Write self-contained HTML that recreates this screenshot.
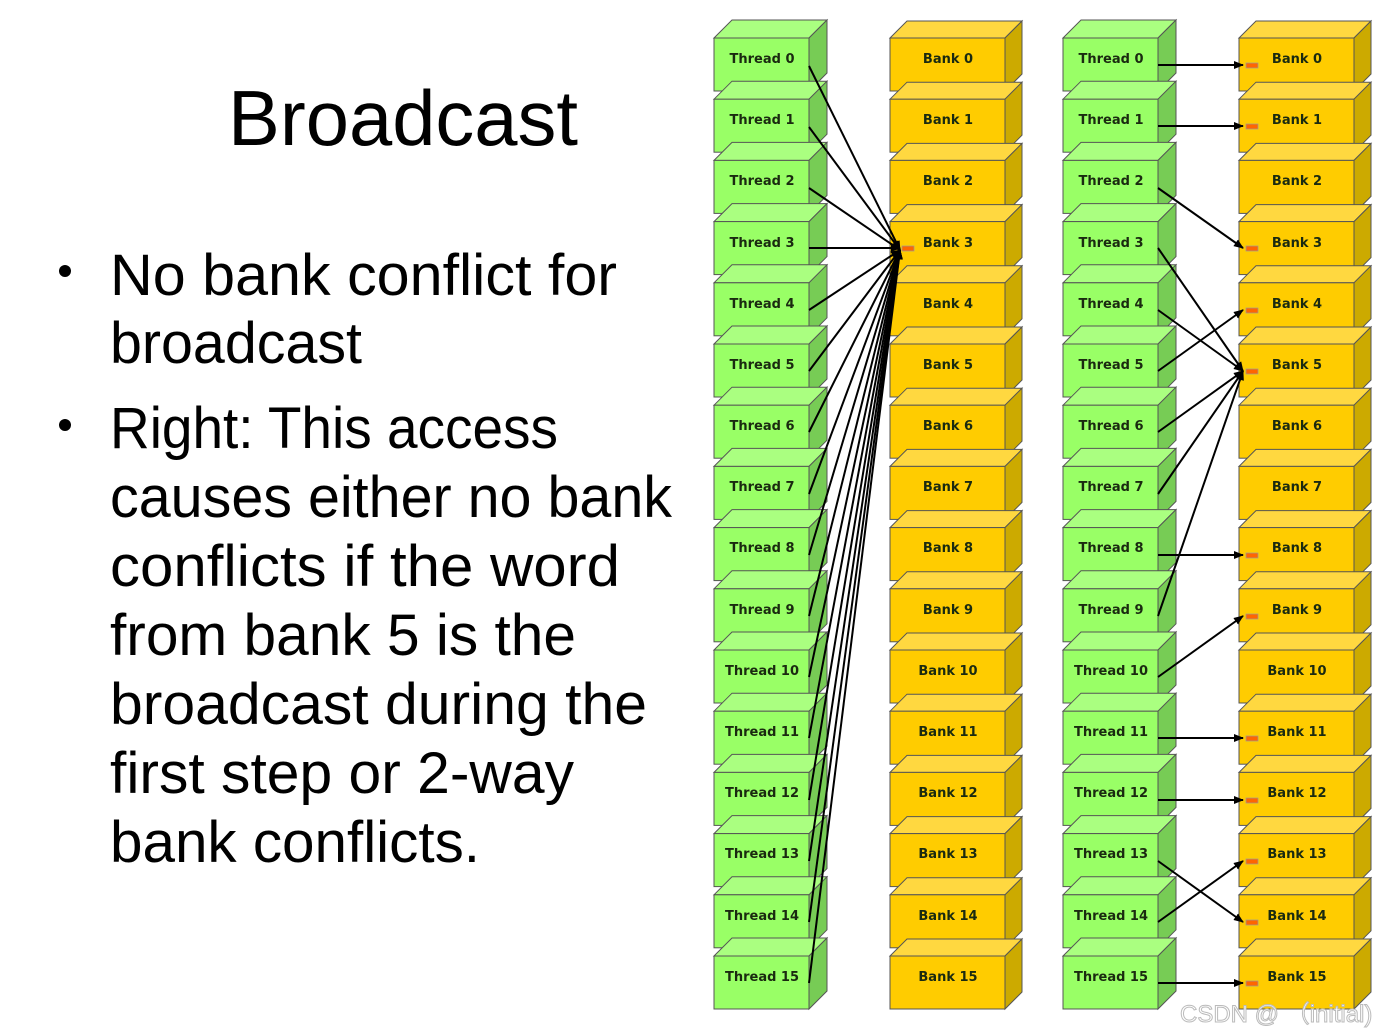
<!DOCTYPE html>
<html><head><meta charset="utf-8"><style>
html,body{margin:0;padding:0;background:#fff;width:1399px;height:1036px;overflow:hidden}
svg{display:block}
.t{font-family:"DejaVu Sans","Liberation Sans",sans-serif;font-weight:bold;font-size:13px;fill:#1a2a10;text-anchor:middle}
.b{font-family:"Liberation Sans",sans-serif;font-size:58px;fill:#000}
</style></head><body>
<svg width="1399" height="1036" viewBox="0 0 1399 1036" xmlns="http://www.w3.org/2000/svg">
<defs>
<g id="g"><polygon points="0,0 18,-18 113,-18 95,0" fill="#aaff80" stroke="#555" stroke-width="1"/><polygon points="95,0 113,-18 113,35 95,53" fill="#77cc55" stroke="#555" stroke-width="1"/><rect x="0" y="0" width="95" height="53" fill="#99ff66" stroke="#555" stroke-width="1"/></g>
<g id="y"><polygon points="0,0 17,-17 132,-17 115,0" fill="#ffd840" stroke="#555" stroke-width="1"/><polygon points="115,0 132,-17 132,36 115,53" fill="#ccaa00" stroke="#555" stroke-width="1"/><rect x="0" y="0" width="115" height="53" fill="#ffcc00" stroke="#555" stroke-width="1"/></g>
<marker id="a" markerWidth="10" markerHeight="8" refX="9" refY="4" orient="auto" markerUnits="userSpaceOnUse"><path d="M0,0 L10,4 L0,8 z" fill="#000"/></marker>
<rect id="m" x="0" y="-2" width="12" height="5" fill="#ff6600" stroke="#999" stroke-width="0.7"/>
</defs>
<text x="228" y="145" class="b" style="font-size:78px" textLength="350" lengthAdjust="spacingAndGlyphs">Broadcast</text>
<circle cx="65" cy="271" r="6"/><circle cx="65" cy="425" r="6"/>
<text class="b" x="110" y="295" textLength="507" lengthAdjust="spacingAndGlyphs">No bank conflict for</text>
<text class="b" x="110" y="363" textLength="252" lengthAdjust="spacingAndGlyphs">broadcast</text>
<text class="b" x="110" y="448" textLength="448" lengthAdjust="spacingAndGlyphs">Right: This access</text>
<text class="b" x="110" y="517" textLength="562" lengthAdjust="spacingAndGlyphs">causes either no bank</text>
<text class="b" x="110" y="586" textLength="510" lengthAdjust="spacingAndGlyphs">conflicts if the word</text>
<text class="b" x="110" y="655" textLength="466" lengthAdjust="spacingAndGlyphs">from bank 5 is the</text>
<text class="b" x="110" y="724" textLength="537" lengthAdjust="spacingAndGlyphs">broadcast during the</text>
<text class="b" x="110" y="793" textLength="464" lengthAdjust="spacingAndGlyphs">first step or 2-way</text>
<text class="b" x="110" y="862" textLength="370" lengthAdjust="spacingAndGlyphs">bank conflicts.</text>

<g id="c1">
<use href="#g" x="714" y="38"/><use href="#g" x="714" y="99.2"/><use href="#g" x="714" y="160.4"/><use href="#g" x="714" y="221.6"/><use href="#g" x="714" y="282.8"/><use href="#g" x="714" y="344"/><use href="#g" x="714" y="405.2"/><use href="#g" x="714" y="466.4"/><use href="#g" x="714" y="527.6"/><use href="#g" x="714" y="588.8"/><use href="#g" x="714" y="650"/><use href="#g" x="714" y="711.2"/><use href="#g" x="714" y="772.4"/><use href="#g" x="714" y="833.6"/><use href="#g" x="714" y="894.8"/><use href="#g" x="714" y="956"/>
</g>
<use href="#c1" x="349"/>
<g id="c2">
<use href="#y" x="890" y="38"/><use href="#y" x="890" y="99.2"/><use href="#y" x="890" y="160.4"/><use href="#y" x="890" y="221.6"/><use href="#y" x="890" y="282.8"/><use href="#y" x="890" y="344"/><use href="#y" x="890" y="405.2"/><use href="#y" x="890" y="466.4"/><use href="#y" x="890" y="527.6"/><use href="#y" x="890" y="588.8"/><use href="#y" x="890" y="650"/><use href="#y" x="890" y="711.2"/><use href="#y" x="890" y="772.4"/><use href="#y" x="890" y="833.6"/><use href="#y" x="890" y="894.8"/><use href="#y" x="890" y="956"/>
</g>
<use href="#c2" x="349"/>

<g class="t">
<text x="762" y="63">Thread 0</text><text x="762" y="124">Thread 1</text><text x="762" y="185">Thread 2</text><text x="762" y="247">Thread 3</text><text x="762" y="308">Thread 4</text><text x="762" y="369">Thread 5</text><text x="762" y="430">Thread 6</text><text x="762" y="491">Thread 7</text><text x="762" y="552">Thread 8</text><text x="762" y="614">Thread 9</text><text x="762" y="675">Thread 10</text><text x="762" y="736">Thread 11</text><text x="762" y="797">Thread 12</text><text x="762" y="858">Thread 13</text><text x="762" y="920">Thread 14</text><text x="762" y="981">Thread 15</text>
<text x="948" y="63">Bank 0</text><text x="948" y="124">Bank 1</text><text x="948" y="185">Bank 2</text><text x="948" y="247">Bank 3</text><text x="948" y="308">Bank 4</text><text x="948" y="369">Bank 5</text><text x="948" y="430">Bank 6</text><text x="948" y="491">Bank 7</text><text x="948" y="552">Bank 8</text><text x="948" y="614">Bank 9</text><text x="948" y="675">Bank 10</text><text x="948" y="736">Bank 11</text><text x="948" y="797">Bank 12</text><text x="948" y="858">Bank 13</text><text x="948" y="920">Bank 14</text><text x="948" y="981">Bank 15</text>
<text x="1111" y="63">Thread 0</text><text x="1111" y="124">Thread 1</text><text x="1111" y="185">Thread 2</text><text x="1111" y="247">Thread 3</text><text x="1111" y="308">Thread 4</text><text x="1111" y="369">Thread 5</text><text x="1111" y="430">Thread 6</text><text x="1111" y="491">Thread 7</text><text x="1111" y="552">Thread 8</text><text x="1111" y="614">Thread 9</text><text x="1111" y="675">Thread 10</text><text x="1111" y="736">Thread 11</text><text x="1111" y="797">Thread 12</text><text x="1111" y="858">Thread 13</text><text x="1111" y="920">Thread 14</text><text x="1111" y="981">Thread 15</text>
<text x="1297" y="63">Bank 0</text><text x="1297" y="124">Bank 1</text><text x="1297" y="185">Bank 2</text><text x="1297" y="247">Bank 3</text><text x="1297" y="308">Bank 4</text><text x="1297" y="369">Bank 5</text><text x="1297" y="430">Bank 6</text><text x="1297" y="491">Bank 7</text><text x="1297" y="552">Bank 8</text><text x="1297" y="614">Bank 9</text><text x="1297" y="675">Bank 10</text><text x="1297" y="736">Bank 11</text><text x="1297" y="797">Bank 12</text><text x="1297" y="858">Bank 13</text><text x="1297" y="920">Bank 14</text><text x="1297" y="981">Bank 15</text>
</g>

<use href="#m" x="902" y="248"/>
<g stroke="#000" stroke-width="2" fill="none" marker-end="url(#a)">
<line x1="809" y1="66" x2="900" y2="250"/><line x1="809" y1="127" x2="900" y2="250"/><line x1="809" y1="188" x2="900" y2="250"/><line x1="809" y1="248" x2="900" y2="248"/><line x1="809" y1="310" x2="900" y2="250"/><line x1="809" y1="371" x2="900" y2="250"/><line x1="809" y1="432" x2="900" y2="250"/><line x1="809" y1="494" x2="900" y2="250"/><line x1="809" y1="555" x2="900" y2="250"/><line x1="809" y1="616" x2="900" y2="250"/><line x1="809" y1="677" x2="900" y2="250"/><line x1="809" y1="738" x2="900" y2="250"/><line x1="809" y1="800" x2="900" y2="250"/><line x1="809" y1="861" x2="900" y2="250"/><line x1="809" y1="922" x2="900" y2="250"/><line x1="809" y1="983" x2="900" y2="250"/>
</g>

<g>
<use href="#m" x="1246" y="65"/><use href="#m" x="1246" y="126"/><use href="#m" x="1246" y="248"/><use href="#m" x="1246" y="310"/><use href="#m" x="1246" y="371"/><use href="#m" x="1246" y="555"/><use href="#m" x="1246" y="616"/><use href="#m" x="1246" y="738"/><use href="#m" x="1246" y="800"/><use href="#m" x="1246" y="861"/><use href="#m" x="1246" y="922"/><use href="#m" x="1246" y="983"/>
</g>
<g stroke="#000" stroke-width="2" fill="none" marker-end="url(#a)">
<line x1="1158" y1="65" x2="1243" y2="65"/>
<line x1="1158" y1="126" x2="1243" y2="126"/>
<line x1="1158" y1="188" x2="1243" y2="248"/>
<line x1="1158" y1="248" x2="1243" y2="371"/>
<line x1="1158" y1="310" x2="1243" y2="371"/>
<line x1="1158" y1="371" x2="1243" y2="310"/>
<line x1="1158" y1="432" x2="1243" y2="371"/>
<line x1="1158" y1="494" x2="1243" y2="371"/>
<line x1="1158" y1="555" x2="1243" y2="555"/>
<line x1="1158" y1="616" x2="1243" y2="371"/>
<line x1="1158" y1="677" x2="1243" y2="616"/>
<line x1="1158" y1="738" x2="1243" y2="738"/>
<line x1="1158" y1="800" x2="1243" y2="800"/>
<line x1="1158" y1="861" x2="1243" y2="922"/>
<line x1="1158" y1="922" x2="1243" y2="861"/>
<line x1="1158" y1="983" x2="1243" y2="983"/>
</g>
<text x="1180" y="1022" font-family="Liberation Sans, sans-serif" font-size="24" fill="#fff" stroke="#bbb" stroke-width="1">CSDN @ （initial)</text>
</svg>
</body></html>
